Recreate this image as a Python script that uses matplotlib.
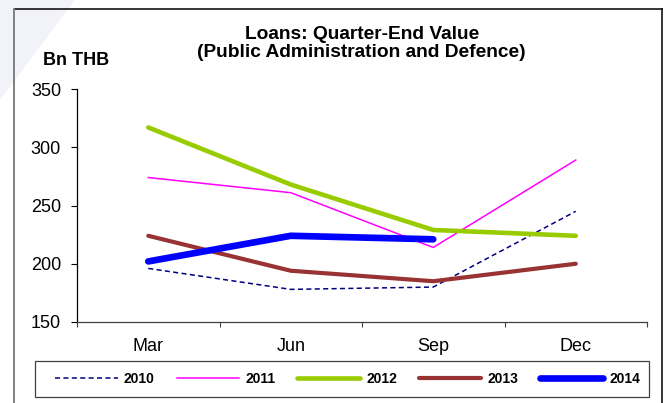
import matplotlib
matplotlib.use('Agg')
import matplotlib.pyplot as plt
from matplotlib.lines import Line2D
from matplotlib.patches import Polygon, Rectangle
import numpy as np

plt.rcParams['font.family'] = ['Liberation Sans', 'DejaVu Sans']

months = ['Mar', 'Jun', 'Sep', 'Dec']
years = ['2010', '2011', '2012', '2013', '2014']
v2010 = [196, 178, 180, 245]
v2011 = [274, 261, 214, 289]
v2012 = [317, 268, 229, 224]
v2013 = [224, 194, 185, 200]
v2014 = [202, 224, 221]
yticks = [150, 200, 250, 300, 350]

W, H = 668, 403
fig = plt.figure(figsize=(W / 100, H / 100), dpi=100)


def fx(px):
    return px / W


def fy(py):
    return 1 - py / H


# faint watermark shape at top-left
fig.add_artist(Polygon([(0, 1), (fx(75), 1), (0, fy(100))], closed=True,
                       transform=fig.transFigure, facecolor='#f2f2f9', edgecolor='none', zorder=0))

# outer frame
fig.add_artist(Line2D([fx(14), fx(662)], [fy(9), fy(9)], transform=fig.transFigure, color='black', lw=1.1))
fig.add_artist(Line2D([fx(662), fx(662)], [fy(9), 0], transform=fig.transFigure, color='black', lw=1.1))
fig.add_artist(Line2D([fx(14), fx(14)], [fy(9), 0], transform=fig.transFigure, color='#808080', lw=1.4))

ax = fig.add_axes([fx(77), fy(322), fx(647 - 77), (322 - 89) / H])
ax.patch.set_alpha(0)

x = np.arange(len(months))
ax.plot(x, v2010, color='#000080', lw=1.1, linestyle=(0, (3.3, 2.2)), label=years[0])
ax.plot(x, v2011, color='#FF00FF', lw=1.1, label=years[1])
ax.plot(x, v2012, color='#99CC00', lw=3.3, solid_capstyle='round', label=years[2])
ax.plot(x, v2013, color='#993333', lw=3.0, solid_capstyle='round', label=years[3])
ax.plot(x[:len(v2014)], v2014, color='#0000FF', lw=4.8, solid_capstyle='round', label=years[4])

ax.set_xlim(-0.5, len(months) - 0.5)
ax.set_ylim(150, 350)
ax.set_yticks(yticks)
ax.set_xticks(np.arange(-0.5, len(months), 1))
ax.set_xticklabels([])
ax.set_xticks(x, minor=True)
ax.set_xticklabels(months, minor=True)
ax.tick_params(axis='x', which='major', direction='out', length=3.4, width=0.8, color='#404040')
ax.tick_params(axis='x', which='minor', length=0, pad=11.5, labelsize=13)
ax.tick_params(axis='y', direction='out', length=4, width=0.8, pad=7.5, labelsize=13)

for s in ['top', 'right']:
    ax.spines[s].set_visible(False)
ax.spines['left'].set_linewidth(0.9)
ax.spines['bottom'].set_linewidth(0.9)
ax.spines['bottom'].set_color('#404040')

fig.text(fx(362), fy(39), 'Loans: Quarter-End Value', ha='center', va='baseline',
         fontsize=13.8, fontweight='bold')
fig.text(fx(361), fy(57), '(Public Administration and Defence)', ha='center', va='baseline',
         fontsize=13.8, fontweight='bold')
fig.text(fx(43), fy(65), 'Bn THB', ha='left', va='baseline', fontsize=13, fontweight='bold')

# legend box drawn separately, entries spread inside it
fig.add_artist(Rectangle((fx(35), fy(397)), fx(649 - 35), 36 / H, transform=fig.transFigure,
                         facecolor='white', edgecolor='#404040', lw=0.9, zorder=1))
handles, labels = ax.get_legend_handles_labels()
leg = fig.legend(handles, labels, loc='center', ncol=5, mode='expand',
                 bbox_to_anchor=(fx(55), fy(397), fx(640 - 55), 36 / H),
                 prop={'size': 10, 'weight': 'bold'}, handlelength=4.5, handletextpad=0.45,
                 frameon=False, borderaxespad=0, borderpad=0, columnspacing=1.5)
leg.set_zorder(2)

fig.savefig('out.png', dpi=100)
